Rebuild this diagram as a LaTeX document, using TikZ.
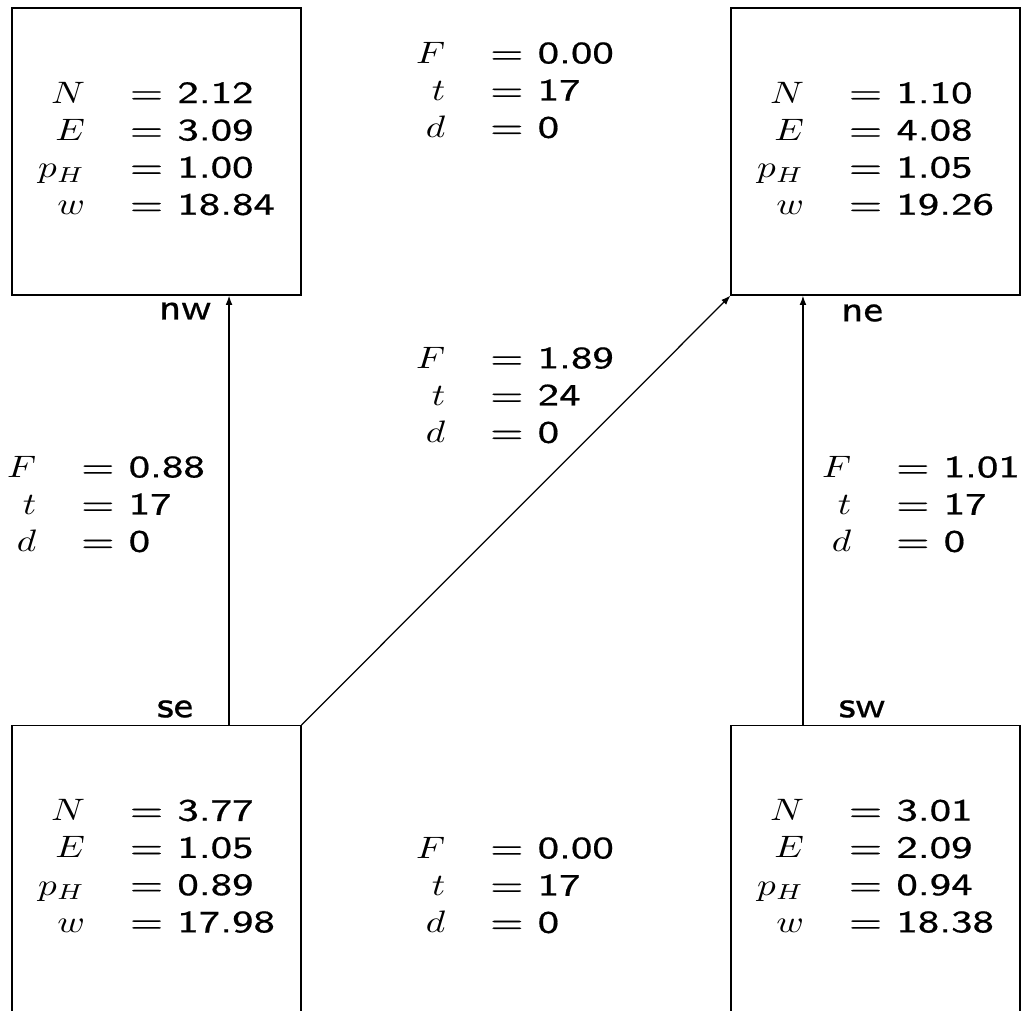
\documentclass[tikz,border=0pt]{standalone}
\usepackage{fontspec}
\usepackage{graphicx}
\setsansfont{lmsans8-regular.otf}[FakeStretch=1.3,FakeBold=0.5]
\newfontfamily\portfont{lmsans8-regular.otf}[FakeStretch=1.1,FakeBold=0.5]
\usetikzlibrary{calc,arrows.meta}

\newcommand\mv[1]{\scalebox{1.2}[1]{$#1$}}
\newcommand\stats[4]{\begin{tabular}{@{}r@{\hspace{14.5pt}}l@{}}
  \mv{N} & = #1\\ \mv{E} & = #2\\ \mv{p_H} & = #3\\ \mv{w} & = #4
\end{tabular}}
\newcommand\flow[3]{\begin{tabular}{@{}r@{\hspace{14.5pt}}l@{}}
  \mv{F} & = #1\\ \mv{t} & = #2\\ \mv{d} & = #3
\end{tabular}}

\tikzset{
  state/.style={draw, minimum width=93.2pt, minimum height=92.6pt, inner sep=0pt, font=\sffamily},
  vals/.style={inner sep=0pt, font=\sffamily},
  port/.style={inner sep=0pt, font=\portfont\large},
  arr/.style={-{Latex[length=3pt,width=2.2pt]}},
}

\begin{document}
\begin{tikzpicture}[x=0.3226pt, y=-0.3226pt]
\clip (0,0) rectangle (1025,1011);

% the four states
\node[state] (ul) at (156.5,151.5) {\stats{2.12}{3.09}{1.00}{18.84}};
\node[state] (ur) at (875.5,151.5) {\stats{1.10}{4.08}{1.05}{19.26}};
\node[state] (ll) at (156.5,869) {\stats{3.77}{1.05}{0.89}{17.98}};
\node[state] (lr) at (875.5,869) {\stats{3.01}{2.09}{0.94}{18.38}};

% transitions
\draw[arr] ($(ll.north west)!0.75!(ll.north east)$) -- ($(ul.south west)!0.75!(ul.south east)$);
\draw[arr] (ll.north east) -- (ur.south west);
\draw[arr] ($(lr.north west)!0.25!(lr.north east)$) -- ($(ur.south west)!0.25!(ur.south east)$);

% flows
\node[vals] (ftop) at (515,93) {\flow{0.00}{17}{0}};
\node[vals] (fdiag) at (515,398) {\flow{1.89}{24}{0}};
\node[vals] (fbot) at (515,888) {\flow{0.00}{17}{0}};
\node[vals] (fleft) at (106,507) {\flow{0.88}{17}{0}};
\node[vals] (fright) at (921,507) {\flow{1.01}{17}{0}};

% ports
\node[port] (nw) at (185,311) {nw};
\node[port] (se) at (175,709) {se};
\node[port] (ne) at (862,313) {ne};
\node[port] (sw) at (862,709) {sw};
\end{tikzpicture}
\end{document}
